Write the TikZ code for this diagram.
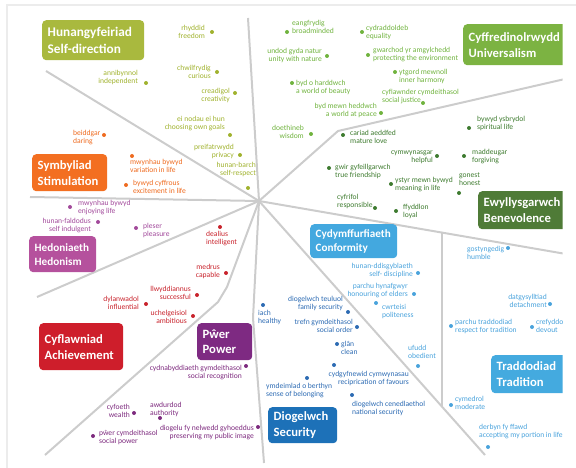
\documentclass[tikz,border=0pt]{standalone}
\usepackage{fontspec}
\setmainfont{Carlito}
\definecolor{linegray}{HTML}{CCCCCC}
\definecolor{framegray}{HTML}{ECECEC}
\definecolor{sdbox}{HTML}{A9B93E}
\definecolor{unbox}{HTML}{7CB342}
\definecolor{stbox}{HTML}{F36F21}
\definecolor{hebox}{HTML}{B5519D}
\definecolor{bebox}{HTML}{4F7B37}
\definecolor{cobox}{HTML}{43A8DF}
\definecolor{acbox}{HTML}{CE1E2B}
\definecolor{pobox}{HTML}{7E2A82}
\definecolor{sebox}{HTML}{1D71B8}
\definecolor{trbox}{HTML}{44AADF}
\definecolor{sdc}{HTML}{A0B22E}
\definecolor{unc}{HTML}{70B33E}
\definecolor{bec}{HTML}{3E7B2F}
\definecolor{coc}{HTML}{4AA3DC}
\definecolor{sec}{HTML}{2D6BB3}
\definecolor{poc}{HTML}{7D2A7E}
\definecolor{acc}{HTML}{C8232C}
\definecolor{hec}{HTML}{A24A9B}
\definecolor{stc}{HTML}{EE6B20}
\newcommand\vitem[9]{%
  \node[val=#2, anchor=base #3] (#1) at (#4,#5+2.5) {\begin{tabular}[t]{@{}#6@{}}#7\\#8\end{tabular}};
  \node[vdot=#2] (#1d) at (#9) {};}
\begin{document}
\begin{tikzpicture}[x=1bp,y=-1bp,
  sep/.style={draw=linegray, line width=2bp, line join=round},
  title/.style={rounded corners=4bp, anchor=north west, text=white, align=left,
    inner xsep=5.5bp, inner ysep=0pt, font=\fontsize{12.7}{16}\selectfont\bfseries},
  smalltitle/.style={font=\fontsize{11.2}{14}\selectfont\bfseries},
  val/.style={font=\fontsize{7.6}{8.5}\selectfont, inner sep=0pt, text=#1},
  vdot/.style={circle, fill=#1, inner sep=0pt, minimum size=4bp},
]
\useasboundingbox (0,0) rectangle (576,468);
\draw[framegray, line width=2bp] (576,5) -- (7,5) -- (7,468);
\begin{scope}
\clip (0,0) rectangle (562.5,468);
% separator lines
\coordinate (c) at (259,201);
\coordinate (e1) at (46,71);
\coordinate (e2) at (248,18);
\coordinate (b3) at (338,131);
\coordinate (e3) at (565,79);
\coordinate (e4) at (566,254);
\coordinate (e5) at (485,455);
\coordinate (vt) at (442,232);
\coordinate (vb) at (442,407);
\coordinate (b6) at (253,318);
\coordinate (e6) at (264,463);
\coordinate (b7a) at (227,287);
\coordinate (b7b) at (218,302);
\coordinate (e7) at (45,455);
\coordinate (e8) at (37,297);
\coordinate (e9) at (30,197);
\draw[sep] (e1) -- (c);
\draw[sep] (e2) -- (c);
\draw[sep] (c) -- (b3) -- (e3);
\draw[sep] (c) -- (e4);
\draw[sep] (c) -- (e5);
\draw[sep] (vt) -- (vb);
\draw[sep] (c) -- (b6) -- (e6);
\draw[sep] (c) -- (b7a) -- (b7b) -- (e7);
\draw[sep] (c) -- (e8);
\draw[sep] (e9) -- (c);
% title boxes
\node[title, fill=sdbox, font=\fontsize{13.3}{16.5}\selectfont\bfseries, text width=91bp, minimum height=40bp] (sd) at (42,20) {Hunangyfeiriad\\Self-direction};
\node[title, fill=unbox, text width=94bp, minimum height=41bp] (un) at (463,24) {Cyffredinolrwydd\\Universalism};
\node[title, fill=stbox, text width=64bp, minimum height=37bp] (st) at (32,154) {Symbyliad\\Stimulation};
\node[title, smalltitle, fill=hebox, text width=56bp, minimum height=36bp] (he) at (29,236) {Hedoniaeth\\Hedonism};
\node[title, fill=bebox, text width=79bp, minimum height=38bp] (be) at (478,191) {Ewyllysgarwch\\Benevolence};
\node[title, smalltitle, fill=cobox, text width=76bp, minimum height=34bp] (co) at (310,224) {Cydymffurfiaeth\\Conformity};
\node[title, fill=acbox, text width=73bp, minimum height=47bp] (ac) at (39,323) {Cyflawniad\\Achievement};
\node[title, fill=pobox, text width=44bp, minimum height=37bp] (po) at (197,323) {Pŵer\\Power};
\node[title, fill=sebox, text width=58bp, minimum height=36bp] (se) at (268,407) {Diogelwch\\Security};
\node[title, fill=trbox, text width=69bp, minimum height=38bp] (tr) at (491,355) {Traddodiad\\Tradition};
% Self-direction
\vitem{sd1}{sdc}{east}{205}{28}{r}{rhyddid}{freedom}{212,32}
\vitem{sd2}{sdc}{east}{211}{68}{r}{chwilfrydig}{curious}{217,72}
\vitem{sd3}{sdc}{east}{230}{91}{r}{creadigol}{creativity}{235,93}
\vitem{sd4}{sdc}{east}{138}{73}{r}{annibynnol}{independent}{146,83}
\vitem{sd5}{sdc}{east}{225}{119}{r}{ei nodau ei hun}{choosing own goals}{230,135}
\vitem{sd6}{sdc}{east}{234}{147}{r}{preifatrwydd}{privacy}{240,155}
\vitem{sd7}{sdc}{east}{256}{165}{r}{hunan-barch}{self-respect}{248,188}
% Universalism
\vitem{un1}{unc}{west}{292}{23}{l}{eangfrydig}{broadminded}{287,32}
\vitem{un2}{unc}{west}{366}{28}{l}{cydraddoldeb}{equality}{362,32}
\vitem{un3}{unc}{east}{322}{51}{r}{undod gyda natur}{unity with nature}{327,56}
\vitem{un4}{unc}{west}{373}{50}{l}{gwarchod yr amgylchedd}{protecting the environment}{368,55}
\vitem{un5}{unc}{west}{296}{83}{l}{byd o harddwch}{a world of beauty}{292,83}
\vitem{un6}{unc}{west}{399}{72}{l}{ytgord mewnoll}{inner harmony}{395,72}
\vitem{un7}{unc}{west}{382}{92}{l}{cyfiawnder cymdeithasol}{social justice}{423,103}
\vitem{un8}{unc}{east}{377}{106}{r}{byd mewn heddwch}{a world at peace}{381,113}
\vitem{un9}{unc}{east}{304}{128}{r}{doethineb}{wisdom}{311,134}
% Benevolence
\vitem{be1}{bec}{west}{350}{133}{l}{cariad aeddfed}{mature love}{343,135}
\vitem{be2}{bec}{east}{433}{152}{r}{cymwynasgar}{helpful}{437,156}
\vitem{be3}{bec}{west}{477}{119}{l}{bywyd ysbrydol}{spiritual life}{469,128}
\vitem{be4}{bec}{west}{472}{152}{l}{maddeugar}{forgiving}{464,156}
\vitem{be5}{bec}{west}{335}{167}{l}{gwir gyfeillgarwch}{true friendship}{329,168}
\vitem{be6}{bec}{west}{395}{180}{l}{ystyr mewn bywyd}{meaning in life}{391,184}
\vitem{be7}{bec}{west}{459}{175}{l}{gonest}{honest}{459,193}
\vitem{be8}{bec}{west}{337}{197}{l}{cyfrifol}{responsible}{375,208}
\vitem{be9}{bec}{west}{403}{207}{l}{ffyddlon}{loyal}{396,211}
% Conformity
\vitem{co1}{coc}{east}{413}{266}{r}{hunan-ddisgyblaeth}{self- discipline}{418,273}
\vitem{co2}{coc}{east}{408}{286}{r}{parchu hynafgwyr}{honouring of elders}{414,294}
\vitem{co3}{coc}{west}{382}{307}{l}{cwrteisi}{politeness}{376,303}
\vitem{co4}{coc}{west}{408}{348}{l}{ufudd}{obedient}{418,366}
\vitem{co5}{coc}{west}{467}{249}{l}{gostyngedig}{humble}{508,248}
% Tradition
\vitem{tr1}{coc}{east}{547}{297}{r}{datgysylltiad}{detachment}{550,304}
\vitem{tr2}{coc}{west}{455}{322}{l}{parchu traddodiad}{respect for tradition}{451,326}
\vitem{tr3}{coc}{west}{536}{322}{l}{crefyddol}{devout}{532,327}
\vitem{tr4}{coc}{west}{455}{399}{l}{cymedrol}{moderate}{451,405}
\vitem{tr5}{coc}{west}{479}{427}{l}{derbyn fy ffawd}{accepting my portion in life}{488,447}
% Security
\vitem{se1}{sec}{west}{258}{313}{l}{iach}{healthy}{263,305}
\vitem{se2}{sec}{east}{343}{299}{r}{diogelwch teuluol}{family security}{348,312}
\vitem{se3}{sec}{east}{353}{322}{r}{trefn gymdeithasol}{social order}{357,327}
\vitem{se4}{sec}{west}{341}{344}{l}{glân}{clean}{337,344}
\vitem{se5}{sec}{east}{409}{374}{r}{cydgyfnewid cymwynasau}{reciprication of favours}{334,365}
\vitem{se6}{sec}{west}{266}{386}{l}{ymdeimlad o berthyn}{sense of belonging}{307,378}
\vitem{se7}{sec}{west}{352}{404}{l}{diogelwch cenedlaethol}{national security}{352,395}
% Power
\vitem{po1}{poc}{east}{242}{368}{r}{cydnabyddiaeth gymdeithasol}{social recognition}{246,366}
\vitem{po2}{poc}{east}{130}{407}{r}{cyfoeth}{wealth}{134,413}
\vitem{po3}{poc}{west}{150}{405}{l}{awdurdod}{authority}{160,418}
\vitem{po4}{poc}{west}{99}{433}{l}{pŵer cymdeithasol}{social power}{93,436}
\vitem{po5}{poc}{east}{254}{428}{r}{diogelu fy nelwedd gyhoeddus}{preserving my public image}{258,427}
% Achievement
\vitem{ac1}{acc}{west}{206}{234}{l}{dealius}{intelligent}{220,227}
\vitem{ac2}{acc}{east}{220}{267}{r}{medrus}{capable}{226,273}
\vitem{ac3}{acc}{east}{191}{289}{r}{llwyddiannus}{successful}{197,295}
\vitem{ac4}{acc}{east}{139}{299}{r}{dylanwadol}{influential}{146,304}
\vitem{ac5}{acc}{east}{187}{313}{r}{uchelgeisiol}{ambitious}{193,316}
% Hedonism
\vitem{he1}{hec}{west}{78}{203}{l}{mwynhau bywyd}{enjoying life}{70,207}
\vitem{he2}{hec}{east}{91}{221}{r}{hunan-faldodus}{self indulgent}{98,222}
\vitem{he3}{hec}{west}{143}{226}{l}{pleser}{pleasure}{136,228}
% Stimulation
\vitem{st1}{stc}{west}{73}{133}{l}{beiddgar}{daring}{104,135}
\vitem{st2}{stc}{west}{130}{162}{l}{mwynhau bywyd}{variation in life}{132,156}
\vitem{st3}{stc}{west}{133}{183}{l}{bywyd cyffrous}{excitement in life}{126,185}
\end{scope}
\end{tikzpicture}
\end{document}
